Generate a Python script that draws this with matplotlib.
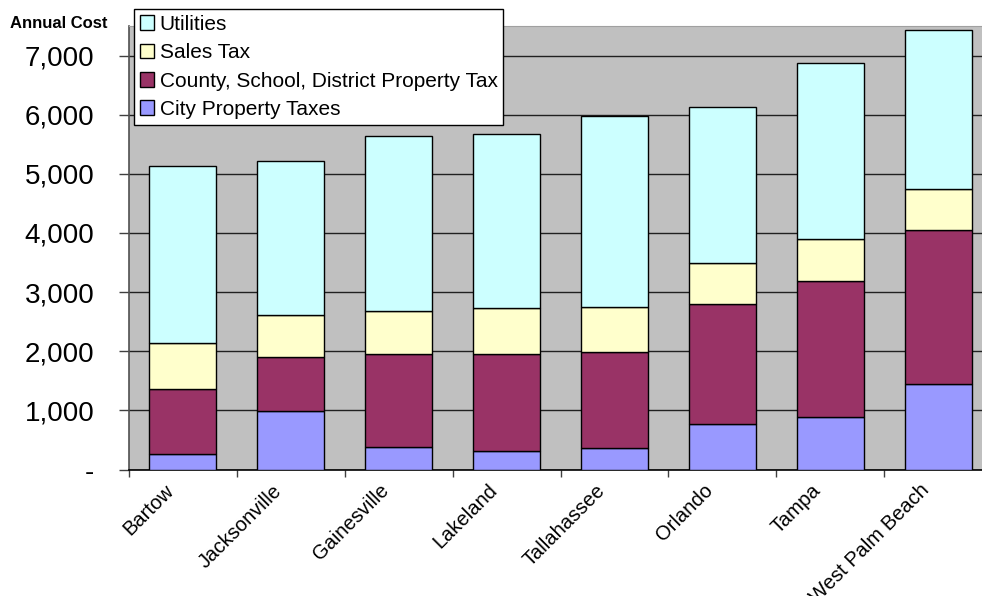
import numpy as np
import matplotlib
matplotlib.use("Agg")
import matplotlib.pyplot as plt
from matplotlib.ticker import FixedLocator, FuncFormatter
from matplotlib.transforms import ScaledTranslation

plt.rcParams["font.family"] = ["Liberation Sans", "DejaVu Sans"]

# annual cost per city, stacked bottom to top
cities = ["Bartow", "Jacksonville", "Gainesville", "Lakeland",
          "Tallahassee", "Orlando", "Tampa", "West Palm Beach"]
city_property = [260, 985, 380, 305, 360, 770, 880, 1445]
county_property = [1100, 920, 1565, 1650, 1620, 2025, 2305, 2605]
sales_tax = [775, 715, 735, 775, 770, 705, 705, 700]
utilities = [3000, 2590, 2965, 2950, 3230, 2625, 2980, 2685]

series = [
    ("City Property Taxes", city_property, "#9999FF"),
    ("County, School, District Property Tax", county_property, "#993366"),
    ("Sales Tax", sales_tax, "#FFFFCC"),
    ("Utilities", utilities, "#CCFFFF"),
]

fig = plt.figure(figsize=(9.82, 5.96), dpi=100)
# plot area runs a little past the right edge of the image
ax = fig.add_axes([129 / 982, 1 - 469.5 / 596, 863 / 982, 443.5 / 596])
ax.set_facecolor("#C0C0C0")

x = np.arange(len(cities))
bottom = np.zeros(len(cities))
handles = []
for name, vals, color in series:
    b = ax.bar(x, vals, width=0.62, bottom=bottom, color=color,
               edgecolor="black", linewidth=1.0, label=name, zorder=3)
    handles.append(b)
    bottom += np.array(vals)

ax.set_xlim(-0.5, len(cities) - 0.5)
ax.set_ylim(0, 7500)

# y axis
ax.yaxis.set_major_locator(FixedLocator(np.arange(0, 7001, 1000)))
ax.yaxis.set_major_formatter(FuncFormatter(lambda v, p: "-" if v == 0 else "{:,.0f}".format(v)))
ax.tick_params(axis="y", length=7, width=1, color="#404040", pad=18, labelsize=20)
ax.grid(axis="y", color="#202020", linewidth=1.0, zorder=0)
ax.set_axisbelow(True)

# x axis: tick marks between categories, labels at centres
ax.xaxis.set_major_locator(FixedLocator(np.arange(-0.5, len(cities), 1.0)))
ax.xaxis.set_major_formatter(FuncFormatter(lambda v, p: ""))
ax.xaxis.set_minor_locator(FixedLocator(x))
ax.set_xticklabels(cities, minor=True)
ax.tick_params(axis="x", which="major", length=5, width=1, color="#404040")
ax.tick_params(axis="x", which="minor", length=0, pad=6, labelsize=14.5)
for lab in ax.get_xticklabels(minor=True):
    lab.set_rotation(45)
    lab.set_ha("right")
    lab.set_va("top")
    lab.set_rotation_mode("anchor")
    lab.set_transform(lab.get_transform() + ScaledTranslation(-0.19, -0.03, fig.dpi_scale_trans))

ax.spines["left"].set_color("#505050")
ax.spines["left"].set_linewidth(1.2)
ax.spines["bottom"].set_color("black")
ax.spines["bottom"].set_linewidth(1.2)
ax.spines["top"].set_color("#A0A0A0")
ax.spines["right"].set_visible(False)

fig.text(10 / 982, 1 - 23 / 596, "Annual Cost", fontsize=12, fontweight="bold",
         ha="left", va="center")

leg = fig.legend(handles[::-1], [s[0] for s in series][::-1],
                 loc="upper left", bbox_to_anchor=(134 / 982, 1 - 9 / 596),
                 bbox_transform=fig.transFigure, borderaxespad=0,
                 fontsize=15, frameon=True, fancybox=False, framealpha=1,
                 handlelength=0.7, handleheight=0.7, handletextpad=0.25,
                 labelspacing=0.45, borderpad=0.28)
leg.get_frame().set_edgecolor("black")
leg.get_frame().set_linewidth(1.0)
leg.set_zorder(10)

fig.savefig("out.png", dpi=100)
